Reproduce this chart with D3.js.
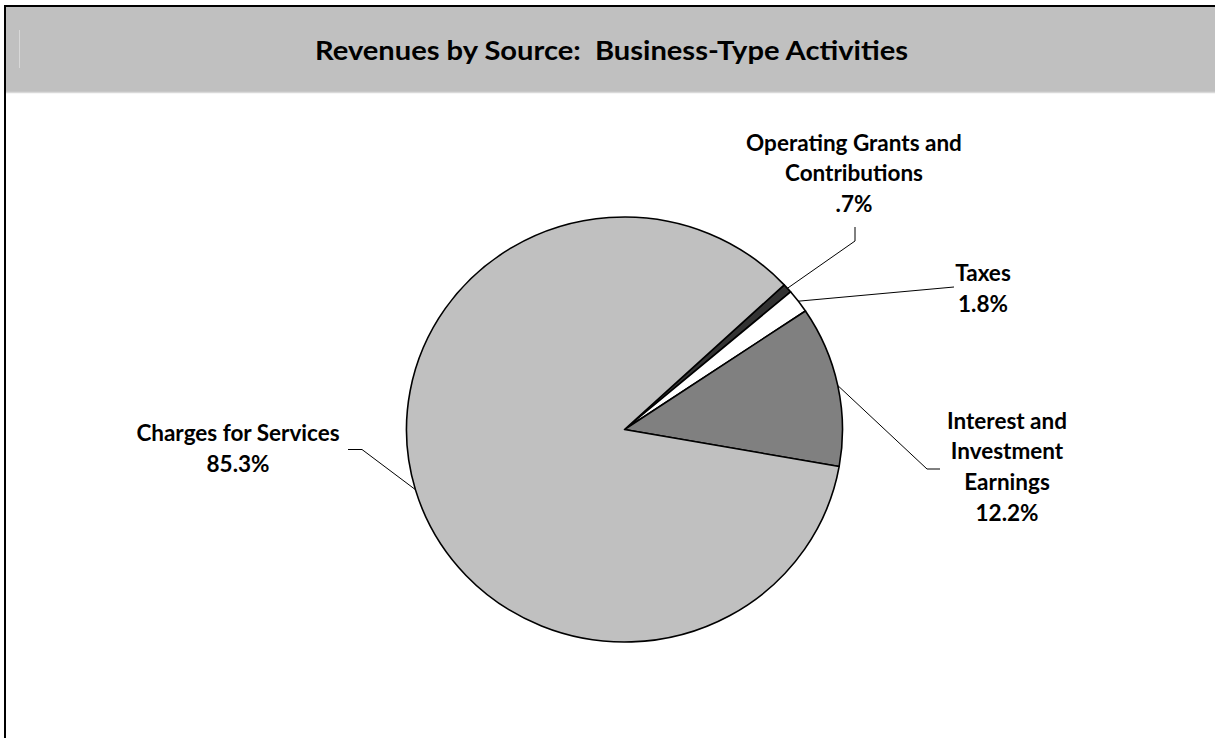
<!DOCTYPE html>
<html>
<head>
<meta charset="utf-8">
<script src="https://cdn.jsdelivr.net/npm/d3@7"></script>
<style>
  html, body { margin: 0; padding: 0; background: #fff; }
  svg { display: block; }
  text { font-family: "Lato", "Open Sans", sans-serif; font-weight: 700; fill: #000; white-space: pre; }
</style>
</head>
<body>
<svg id="chart" width="1215" height="738"></svg>
<script>
// Revenue sources, listed clockwise starting from the small slices at upper right
const categories = ["Operating Grants and Contributions", "Taxes", "Interest and Investment Earnings", "Charges for Services"];
const shares = [0.7, 1.8, 12.2, 85.3];
const shareLabels = [".7%", "1.8%", "12.2%", "85.3%"];
const labelLines = [
  ["Operating Grants and", "Contributions", ".7%"],
  ["Taxes", "1.8%"],
  ["Interest and", "Investment", "Earnings", "12.2%"],
  ["Charges for Services", "85.3%"]
];
const sliceColors = ["#333333", "#ffffff", "#808080", "#c0c0c0"];
const title = "Revenues by Source:  Business-Type Activities";

const W = 1215, H = 738;
const svg = d3.select("#chart");

// frame and title band
svg.append("rect").attr("x", 5).attr("y", 6).attr("width", W).attr("height", 86).attr("fill", "#c0c0c0");
svg.append("line").attr("x1", 5).attr("x2", W).attr("y1", 92.5).attr("y2", 92.5).attr("stroke", "#d9d9d9").attr("stroke-width", 1.5);
svg.append("line").attr("x1", 19.5).attr("x2", 19.5).attr("y1", 30).attr("y2", 68).attr("stroke", "#d8d8d8").attr("stroke-width", 1);
svg.append("line").attr("x1", 4).attr("x2", W).attr("y1", 6).attr("y2", 6).attr("stroke", "#000").attr("stroke-width", 2);
svg.append("line").attr("x1", 5).attr("x2", 5).attr("y1", 5).attr("y2", H).attr("stroke", "#000").attr("stroke-width", 2);

svg.append("text")
  .attr("x", 611.5).attr("y", 59.5)
  .attr("text-anchor", "middle")
  .attr("xml:space", "preserve")
  .style("font-size", "26px")
  .attr("textLength", 593).attr("lengthAdjust", "spacingAndGlyphs")
  .text(title);

// pie geometry
const cx = 624.5, cy = 429.5, rx = 218, ry = 212.5;
const startDeg = 47.1;
const pie = d3.pie().sort(null).value(d => d)
  .startAngle(startDeg * Math.PI / 180)
  .endAngle((startDeg + 360) * Math.PI / 180);
const arcs = pie(shares);
const arc = d3.arc().innerRadius(0).outerRadius(rx);

const pieG = svg.append("g").attr("transform", `translate(${cx},${cy}) scale(1,${ry / rx})`);
pieG.selectAll("path").data(arcs).join("path")
  .attr("d", arc)
  .attr("fill", (d, i) => sliceColors[i])
  .attr("stroke", "#000")
  .attr("stroke-width", 1.6)
  .attr("stroke-linejoin", "round");

// point on the rim at the middle of a slice
function rimPoint(d) {
  const a = (d.startAngle + d.endAngle) / 2;
  return [cx + rx * Math.sin(a), cy - ry * Math.cos(a)];
}

// label placement: text centre, baseline of first line, leader bend points
const labelLayout = [
  { x: 854, y: 150.5, bends: [[855, 241], [855, 227]] },
  { x: 983, y: 281, bends: [[954, 287]] },
  { x: 1007, y: 428.5, bends: [[927, 469], [940, 469]] },
  { x: 238, y: 441, bends: [[362, 449.5], [348, 449.5]] }
];
const lineGap = 30.7;

arcs.forEach((d, i) => {
  const L = labelLayout[i];
  const pts = [rimPoint(d)].concat(L.bends);
  svg.append("path")
    .attr("d", d3.line()(pts))
    .attr("fill", "none")
    .attr("stroke", "#000")
    .attr("stroke-width", 1);
  const t = svg.append("text")
    .attr("text-anchor", "middle")
    .style("font-size", "22.5px");
  labelLines[i].forEach((s, j) => {
    t.append("tspan").attr("x", L.x).attr("y", L.y + j * lineGap).text(s);
  });
});
</script>
</body>
</html>
